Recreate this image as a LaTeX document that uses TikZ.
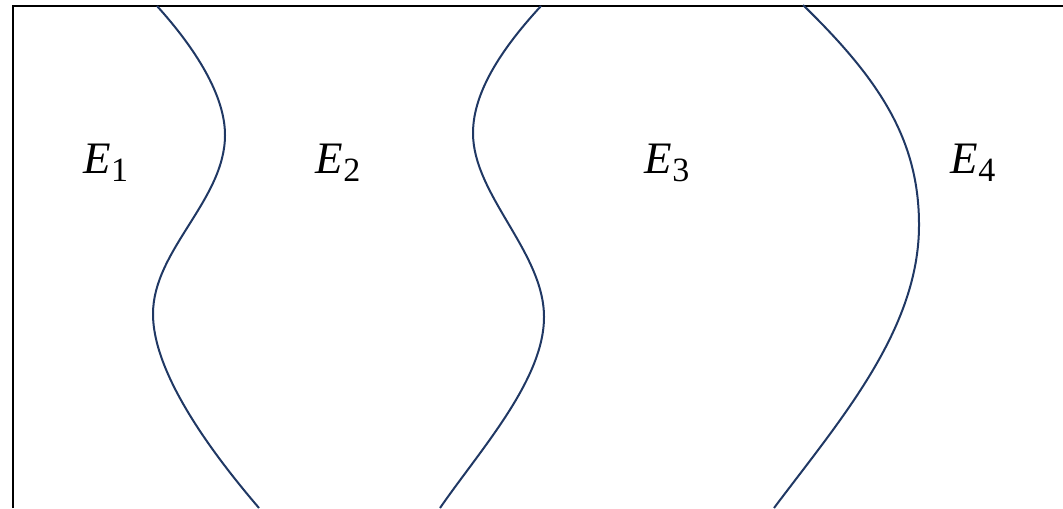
\documentclass[tikz,border=0pt]{standalone}
\usepackage{fontspec}
\setmainfont{Liberation Serif}
\usepackage{tikz}
\usetikzlibrary{positioning}
\definecolor{clrCurve}{HTML}{203864}

\newcommand{\regionlbl}[1]{\textit{E}\raisebox{-4.2pt}{\fontsize{17}{17}\selectfont #1}}

\begin{document}
\begin{tikzpicture}[x=0.5pt, y=-0.5pt,
  frame/.style={line width=1pt, black},
  bnd/.style={line width=1pt, clrCurve},
  lbl/.style={font=\fontsize{22.5}{27}\selectfont, anchor=base, inner sep=0pt},
]
\useasboundingbox (0,0) rectangle (1063,508);
% frame
\draw[frame] (13,508) -- (13,6) -- (1063,6);
% boundaries
\draw[bnd] (157,6) .. controls (195,48) and (225,95) .. (225,135)
  .. controls (225,200) and (153,250) .. (153,314)
  .. controls (153,370) and (205,445) .. (259,508);
\draw[bnd] (541,6) .. controls (505,45) and (473,90) .. (473,133)
  .. controls (473,195) and (544,252) .. (544,317)
  .. controls (544,380) and (480,450) .. (440,508);
\draw[bnd] (803,5) .. controls (880,80) and (919,140) .. (919,225)
  .. controls (919,330) and (840,420) .. (774,508);
% labels
\node[lbl] (e1) at (106,173) {\regionlbl{1}};
\node[lbl] (e2) at (338,173) {\regionlbl{2}};
\node[lbl] (e3) at (667,173) {\regionlbl{3}};
\node[lbl] (e4) at (973,173) {\regionlbl{4}};
\end{tikzpicture}
\end{document}
